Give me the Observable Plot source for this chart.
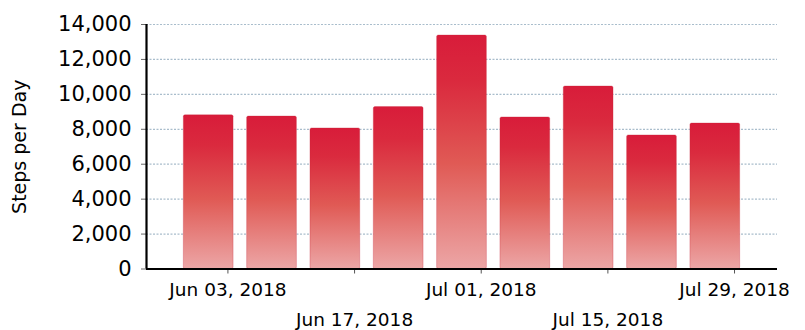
<!DOCTYPE html>
<html>
<head>
<meta charset="utf-8">
<script src="https://cdn.jsdelivr.net/npm/d3@7"></script>
<script src="https://cdn.jsdelivr.net/npm/@observablehq/plot@0.6"></script>
<style>
  html, body { margin: 0; padding: 0; background: #fff; }
  #chart { width: 805px; height: 330px; }
</style>
</head>
<body>
<div id="chart"></div>
<script>
// Data
const weekDates = ["2018-06-03","2018-06-10","2018-06-17","2018-06-24","2018-07-01","2018-07-08","2018-07-15","2018-07-22","2018-07-29"];
const steps = [8800, 8730, 8050, 9270, 13370, 8680, 10450, 7650, 8330];
const yTicks = [0, 2000, 4000, 6000, 8000, 10000, 12000, 14000];
const xTicksRow1 = ["2018-06-03","2018-07-01","2018-07-29"];
const xTicksRow2 = ["2018-06-17","2018-07-15"];

const parse = d3.utcParse("%Y-%m-%d");
const data = weekDates.map((d, i) => ({date: parse(d), steps: steps[i]}));
const row1 = xTicksRow1.map(parse);
const row2 = xTicksRow2.map(parse);
const allTicks = [...row1, ...row2];
const fmt = d3.utcFormat("%b %d, %Y");
const hour = 3600 * 1000;

const font = "DejaVu Sans, Verdana, sans-serif";

const plot = Plot.plot({
  width: 805,
  height: 330,
  marginLeft: 146,
  marginRight: 28,
  marginTop: 24,
  marginBottom: 61.5,
  style: {fontFamily: font, fontSize: "19px", color: "#000", background: "#fff"},
  x: {type: "utc", domain: [parse("2018-05-25"), new Date(+parse("2018-08-02") + 18 * hour)]},
  y: {domain: [0, 14000]},
  marks: [
    Plot.ruleY(yTicks.filter(d => d > 0), {stroke: "#a9bdcc", strokeWidth: 1.2, strokeDasharray: "2,1.5"}),
    Plot.rectY(data, {
      x1: d => new Date(+d.date - 117 * hour),
      x2: d => new Date(+d.date + 15 * hour),
      y1: 0,
      y2: "steps",
      fill: "url(#barGrad)",
      stroke: "#c8283c",
      strokeOpacity: 0.3,
      rx: 1.5
    }),
    Plot.axisY({
      ticks: yTicks,
      tickFormat: d3.format(","),
      tickSize: 5,
      tickPadding: 10,
      fontSize: 21,
      stroke: "#666",
      label: "Steps per Day",
      labelAnchor: "center",
      labelArrow: "none",
      labelOffset: 134
    }),
    Plot.axisX({ticks: allTicks, tickFormat: () => "", tickSize: 5, stroke: "#555"}),
    Plot.axisX({ticks: row1, tickFormat: fmt, tickSize: 0, tickPadding: 14, fontSize: 18.5}),
    Plot.axisX({ticks: row2, tickFormat: fmt, tickSize: 0, tickPadding: 44, fontSize: 18.5}),
    Plot.ruleY([0], {stroke: "#000", strokeWidth: 2.2}),
    Plot.ruleX([parse("2018-05-25")], {y1: 0, y2: 14000, stroke: "#000", strokeWidth: 2.2})
  ]
});

// gradient definition
const svg = d3.select(plot);
const defs = svg.insert("defs", ":first-child");
const grad = defs.append("linearGradient").attr("id", "barGrad")
  .attr("x1", 0).attr("y1", 0).attr("x2", 0).attr("y2", 1);
grad.append("stop").attr("offset", "0%").attr("stop-color", "#d81c3a");
grad.append("stop").attr("offset", "20%").attr("stop-color", "#da2a3e");
grad.append("stop").attr("offset", "55%").attr("stop-color", "#e05a55");
grad.append("stop").attr("offset", "100%").attr("stop-color", "#eca6a6");
svg.selectAll("rect").filter(function() { return this.getAttribute("fill") === "url(#barGrad)" || this.parentNode.getAttribute("fill") === "url(#barGrad)"; })
  .attr("fill", "url(#barGrad)");

svg.selectAll("text").filter(function() { return this.textContent === "Steps per Day"; })
  .attr("font-size", 19);

document.getElementById("chart").appendChild(plot);
</script>
</body>
</html>
